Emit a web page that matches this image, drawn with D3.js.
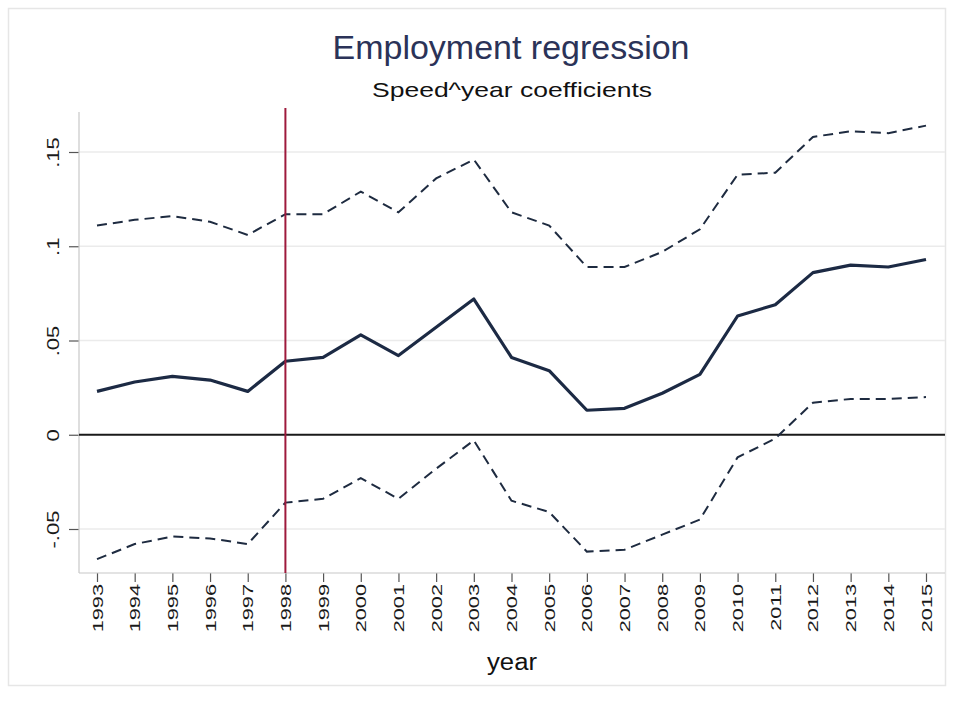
<!DOCTYPE html>
<html>
<head>
<meta charset="utf-8">
<script src="https://cdn.jsdelivr.net/npm/d3@7"></script>
<style>
  html, body { margin: 0; padding: 0; background: #ffffff; }
  svg { display: block; }
  text { font-family: "Liberation Sans", Arial, sans-serif; }
</style>
</head>
<body>
<svg id="chart" width="964" height="704"></svg>
<script>
// Coefficients on speed x year, with 95% confidence bounds
const years = d3.range(1993, 2016);
const coef  = [0.023, 0.028, 0.031, 0.029, 0.023, 0.039, 0.041, 0.053, 0.042, 0.057, 0.072, 0.041,
               0.034, 0.013, 0.014, 0.022, 0.032, 0.063, 0.069, 0.086, 0.090, 0.089, 0.093];
const upper = [0.111, 0.114, 0.116, 0.113, 0.106, 0.117, 0.117, 0.129, 0.118, 0.136, 0.146, 0.118,
               0.111, 0.089, 0.089, 0.097, 0.109, 0.138, 0.139, 0.158, 0.161, 0.160, 0.164];
const lower = [-0.066, -0.058, -0.054, -0.055, -0.058, -0.036, -0.034, -0.023, -0.034, -0.018, -0.003, -0.035,
               -0.041, -0.062, -0.061, -0.053, -0.045, -0.012, -0.002, 0.017, 0.019, 0.019, 0.020];
const yTicks = [-0.05, 0, 0.05, 0.1, 0.15];
const yTickLabels = ["-.05", "0", ".05", ".1", ".15"];
const markerYear = 1998;

const titleText = "Employment regression";
const subtitleText = "Speed^year coefficients";
const xTitleText = "year";

const svg = d3.select("#chart");

// plot region
const plot = { left: 79, right: 945, top: 110, bottom: 573 };

const x = d3.scaleLinear().domain([1993, 2015]).range([97, 926]);
const y = d3.scaleLinear().domain([-0.05, 0.15]).range([529, 152]);

// faint outer frame of the graph region
svg.append("rect")
  .attr("x", 8.5).attr("y", 8.5).attr("width", 937).attr("height", 677)
  .attr("fill", "none").attr("stroke", "#e6e6e6").attr("stroke-width", 1.5);

// horizontal grid
svg.append("g").selectAll("line")
  .data(yTicks.filter(d => d !== 0))
  .join("line")
  .attr("x1", plot.left).attr("x2", plot.right)
  .attr("y1", d => y(d)).attr("y2", d => y(d))
  .attr("stroke", "#ebebeb").attr("stroke-width", 1.5);

// y axis
const yAxis = d3.axisLeft(y).tickValues(yTicks).tickSize(10).tickFormat("");
const gy = svg.append("g").attr("transform", `translate(${plot.left},0)`).call(yAxis);
gy.select(".domain").remove();
gy.selectAll(".tick line").attr("stroke", "#555").attr("stroke-width", 1.2);
svg.append("line")
  .attr("x1", plot.left).attr("x2", plot.left)
  .attr("y1", plot.top + 2).attr("y2", plot.bottom)
  .attr("stroke", "#c8c8c8").attr("stroke-width", 1.2);

gy.selectAll(".tick").append("text")
  .attr("transform", "translate(-20,0) rotate(-90) scale(1.3,1)")
  .attr("text-anchor", "middle")
  .attr("fill", "#1a1a1a")
  .attr("font-size", 17)
  .text((d, i) => yTickLabels[i]);

// x axis
const xAxis = d3.axisBottom(x).tickValues(years).tickSize(9).tickFormat("");
const gx = svg.append("g").attr("transform", `translate(0,${plot.bottom})`).call(xAxis);
gx.select(".domain").remove();
gx.selectAll(".tick line").attr("stroke", "#555").attr("stroke-width", 1.2);
svg.append("line")
  .attr("x1", plot.left).attr("x2", plot.right)
  .attr("y1", plot.bottom).attr("y2", plot.bottom)
  .attr("stroke", "#c8c8c8").attr("stroke-width", 1.2);

gx.selectAll(".tick").append("text")
  .attr("transform", "translate(5,11) rotate(-90) scale(1.45,1)")
  .attr("text-anchor", "end")
  .attr("fill", "#1a1a1a")
  .attr("font-size", 15)
  .text(d => d);

// reference line at zero
svg.append("line")
  .attr("x1", plot.left).attr("x2", plot.right)
  .attr("y1", y(0)).attr("y2", y(0))
  .attr("stroke", "#1a1a1a").attr("stroke-width", 2);

// series
const line = d3.line().x((d, i) => x(years[i])).y(d => y(d));

svg.append("path").datum(upper)
  .attr("d", line).attr("fill", "none")
  .attr("stroke", "#1e2b40").attr("stroke-width", 2)
  .attr("stroke-dasharray", "10,6");

svg.append("path").datum(lower)
  .attr("d", line).attr("fill", "none")
  .attr("stroke", "#1e2b40").attr("stroke-width", 2)
  .attr("stroke-dasharray", "10,6");

svg.append("path").datum(coef)
  .attr("d", line).attr("fill", "none")
  .attr("stroke", "#1c2a44").attr("stroke-width", 3.2)
  .attr("stroke-linejoin", "round");

// vertical marker at 1998
svg.append("line")
  .attr("x1", x(markerYear)).attr("x2", x(markerYear))
  .attr("y1", 108).attr("y2", plot.bottom)
  .attr("stroke", "#9e1a3c").attr("stroke-width", 2);

// titles
svg.append("text")
  .attr("x", 511).attr("y", 59)
  .attr("text-anchor", "middle")
  .attr("font-size", 33)
  .attr("fill", "#2b3358")
  .attr("textLength", 357).attr("lengthAdjust", "spacingAndGlyphs")
  .text(titleText);

svg.append("text")
  .attr("x", 512).attr("y", 97)
  .attr("text-anchor", "middle")
  .attr("font-size", 21)
  .attr("fill", "#111")
  .attr("textLength", 280).attr("lengthAdjust", "spacingAndGlyphs")
  .text(subtitleText);

svg.append("text")
  .attr("x", 512).attr("y", 670)
  .attr("text-anchor", "middle")
  .attr("font-size", 23)
  .attr("fill", "#111")
  .attr("textLength", 50).attr("lengthAdjust", "spacingAndGlyphs")
  .text(xTitleText);
</script>
</body>
</html>
